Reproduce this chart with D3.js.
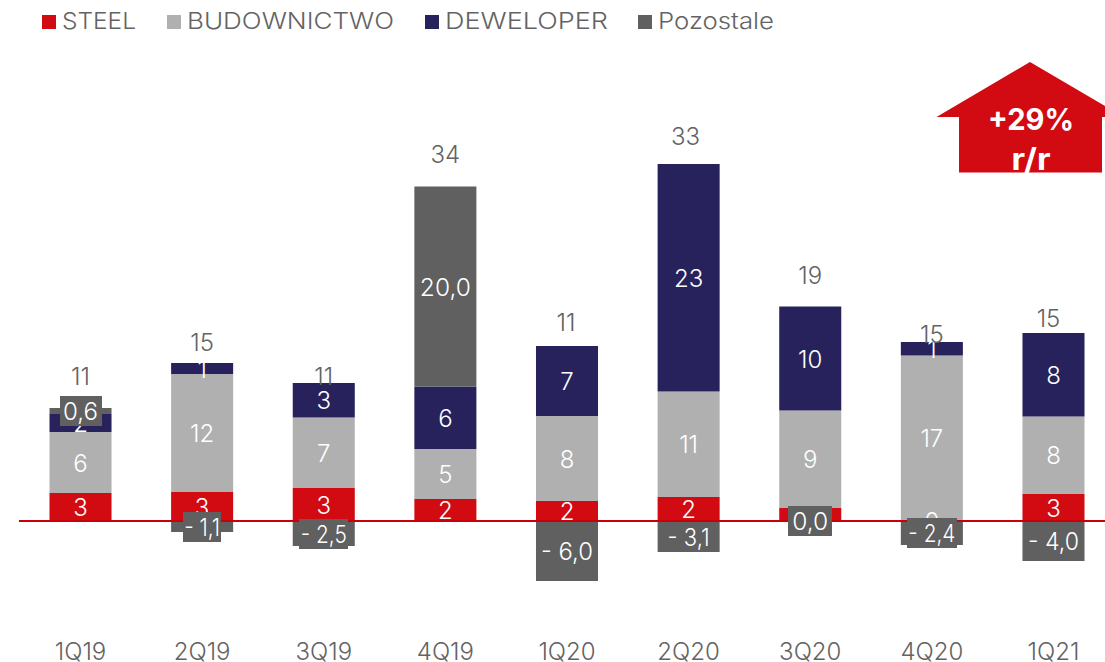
<!DOCTYPE html>
<html>
<head>
    <meta charset="utf-8">
    <title>Wyniki segmentow</title>
    <script src="https://d3js.org/d3.v7.min.js"></script>
    <style>
        body { margin: 0; background: #fff; overflow: hidden; }
        text { font-family: Inter, "Open Sans", sans-serif; font-weight: 300; }
    </style>
</head>
<body>
    <div id="chart"></div>
    <script>
        // dane
        var quarters = ["1Q19", "2Q19", "3Q19", "4Q19", "1Q20", "2Q20", "3Q20", "4Q20", "1Q21"];
        var seriesNames = ["STEEL", "BUDOWNICTWO", "DEWELOPER", "Pozostale"];
        var steel = [2.8, 2.9, 3.3, 2.2, 2.0, 2.4, 1.3, 0.0, 2.7];
        var budownictwo = [6.1, 11.8, 7.05, 5.0, 8.5, 10.55, 9.75, 16.55, 7.75];
        var deweloper = [1.8, 1.1, 3.45, 6.25, 7.0, 22.75, 10.4, 1.35, 8.35];
        var pozostale = [0.6, -1.1, -2.5, 20.0, -6.0, -3.1, 0.0, -2.4, -4.0];

        var steelLabels = ["3", "3", "3", "2", "2", "2", "1", "0", "3"];
        var budownictwoLabels = ["6", "12", "7", "5", "8", "11", "9", "17", "8"];
        var deweloperLabels = ["2", "1", "3", "6", "7", "23", "10", "1", "8"];
        var pozostaleLabels = ["0,6", "- 1,1", "- 2,5", "20,0", "- 6,0", "- 3,1", "0,0", "- 2,4", "- 4,0"];

        var totals = [11, 15, 11, 34, 11, 33, 19, 15, 15];
        // wysokosc etykiet sumy (ukryta linia na wykresie)
        var totalLevel = [14.4, 17.8, 14.4, 36.6, 19.8, 38.4, 24.5, 18.6, 20.2];

        // recznie dopasowane: przesuniecia sum i szerokosci etykiet
        var totalNudge = [0, 0, 0, 0, -1, -3, 0, 0, -5];
        var boxWidth = [42, 38, 49, 58, 58, 50, 44, 50, 58];
        var boxTextWidth = [35, 36, 46, 51, 52, 42, 36, 47, 51];
        var legendSquare = [42, 167, 425, 638];
        var legendWidth = [74, 207, 163, 116];

        var colors = ["#d20a11", "#b0b0b0", "#28225c", "#606060"];
        var textColor = "#636363";
        var labelSets = [steelLabels, budownictwoLabels, deweloperLabels, pozostaleLabels];

        var width = 1105, height = 662;

        var svg = d3.select("#chart")
            .append("svg")
            .attr("width", width)
            .attr("height", height)
            .style("display", "block");

        var x = d3.scaleBand()
            .domain(quarters)
            .range([19.7, 1114.3])
            .paddingInner(0.49)
            .paddingOuter(0.245);

        var y = d3.scaleLinear()
            .domain([-14, 52])
            .range([661, 1]);

        var rows = quarters.map(function(q, i) {
            return { quarter: q, STEEL: steel[i], BUDOWNICTWO: budownictwo[i], DEWELOPER: deweloper[i], Pozostale: pozostale[i] };
        });

        var stacked = d3.stack()
            .keys(seriesNames)
            .offset(d3.stackOffsetDiverging)(rows);

        // slupki
        svg.selectAll("g.series")
            .data(stacked)
            .enter()
            .append("g")
            .attr("class", "series")
            .attr("fill", function(d, i) { return colors[i]; })
            .selectAll("rect")
            .data(function(d) { return d; })
            .enter()
            .append("rect")
            .attr("x", function(d) { return x(d.data.quarter); })
            .attr("width", x.bandwidth())
            .attr("y", function(d) { return y(Math.max(d[0], d[1])); })
            .attr("height", function(d) { return Math.abs(y(d[0]) - y(d[1])); });

        // linia zera
        svg.append("line")
            .attr("x1", 19)
            .attr("x2", width)
            .attr("y1", y(0))
            .attr("y2", y(0))
            .attr("stroke", "#c8000a")
            .attr("stroke-width", 2);

        // etykiety wartosci
        stacked.forEach(function(layer, s) {
            layer.forEach(function(d, i) {
                var cx = x(d.data.quarter) + x.bandwidth() / 2;
                var cy = y((d[0] + d[1]) / 2);
                if (s == 3) {
                    svg.append("rect")
                        .attr("x", Math.round(cx - boxWidth[i] / 2))
                        .attr("y", Math.round(cy - 15))
                        .attr("width", boxWidth[i])
                        .attr("height", 30)
                        .attr("fill", colors[3]);
                }
                var t = svg.append("text")
                    .attr("x", cx)
                    .attr("y", cy)
                    .attr("dy", "0.38em")
                    .attr("text-anchor", "middle")
                    .attr("fill", "#fff")
                    .style("font-size", "24px")
                    .text(labelSets[s][i]);
                if (s == 3) {
                    t.attr("textLength", boxTextWidth[i]).attr("lengthAdjust", "spacingAndGlyphs");
                }
            });
        });

        // sumy
        svg.selectAll("text.total")
            .data(totals)
            .enter()
            .append("text")
            .attr("class", "total")
            .attr("x", function(d, i) { return x(quarters[i]) + x.bandwidth() / 2 + totalNudge[i]; })
            .attr("y", function(d, i) { return y(totalLevel[i]); })
            .attr("dy", "0.35em")
            .attr("text-anchor", "middle")
            .attr("fill", textColor)
            .style("font-size", "24px")
            .text(function(d) { return d; });

        // os x
        var axis = svg.append("g")
            .attr("transform", "translate(0,661)")
            .call(d3.axisBottom(x).tickSize(0));
        axis.select(".domain").remove();
        axis.selectAll("text")
            .attr("y", -1)
            .attr("dy", 0)
            .attr("fill", textColor)
            .style("font-family", "Inter, sans-serif")
            .style("font-size", "24px");

        // legenda
        seriesNames.forEach(function(name, i) {
            svg.append("rect")
                .attr("x", legendSquare[i])
                .attr("y", 15)
                .attr("width", 14)
                .attr("height", 14)
                .attr("fill", colors[i]);
            svg.append("text")
                .attr("x", legendSquare[i] + 20)
                .attr("y", 29)
                .attr("fill", textColor)
                .attr("textLength", legendWidth[i])
                .attr("lengthAdjust", "spacingAndGlyphs")
                .style("font-size", "23px")
                .text(name);
        });

        // strzalka +29% r/r
        svg.append("path")
            .attr("d", "M1030,62 L1124,117 L1102,117 L1102,172.5 L959,172.5 L959,117 L936.5,117 Z")
            .attr("fill", "#d20a11");
        svg.append("text")
            .attr("x", 1031)
            .attr("y", 130)
            .attr("text-anchor", "middle")
            .attr("fill", "#fff")
            .attr("textLength", 86)
            .attr("lengthAdjust", "spacingAndGlyphs")
            .style("font-size", "30px")
            .style("font-weight", 700)
            .text("+29%");
        svg.append("text")
            .attr("x", 1031)
            .attr("y", 170)
            .attr("text-anchor", "middle")
            .attr("fill", "#fff")
            .attr("textLength", 39)
            .attr("lengthAdjust", "spacingAndGlyphs")
            .style("font-size", "30px")
            .style("font-weight", 700)
            .text("r/r");
    </script>
</body>
</html>
